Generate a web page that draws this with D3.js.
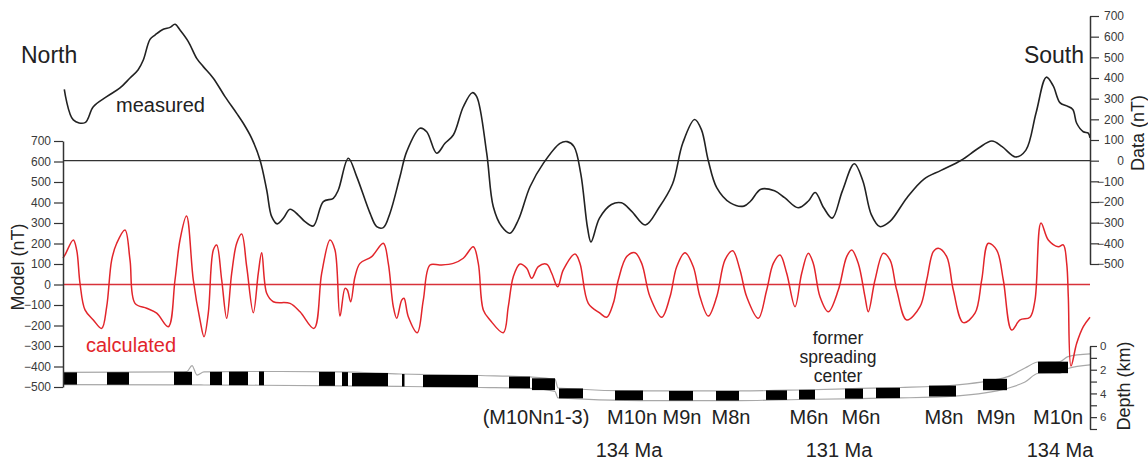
<!DOCTYPE html>
<html><head><meta charset="utf-8">
<script src="https://cdn.jsdelivr.net/npm/d3@7"></script>
<style>body{margin:0;background:#fff}svg{display:block;font-family:"Liberation Sans",Arial,sans-serif}</style>
</head><body><svg id="c" width="1148" height="461"></svg>
<script>
// distance along profile (arbitrary units, 0..1027)
const measuredDist = [1.3,10.3,22,30.3,43.7,57,67,75,80.3,87,
92,100.3,107,112,117,125.3,133.7,140.3,150.3,162,
173.7,180.3,188.7,197,203.7,208.7,214.3,220.3,227,235.3,
242,250.3,260.3,270.3,275.3,285.3,293.7,307,313.7,320.3,
327,337,343.7,357,363.7,373.7,382,390.3,400.3,409.3,
413.7,423.7,430.3,438.7,447,455.3,467,480.3,497,504.2,
511,517.8,524.6,528,536.5,548.4,558.5,568.7,582.3,595.9,
609.5,619.7,631.6,638.4,645.2,653.7,667.3,680.9,687.7,697.9,
711.5,721.6,735.2,745.4,752.2,760.7,769.2,779.4,791.3,799.8,
808.3,816.8,827,844,861,878,898.3,915.3,928.9,939.1,
952.7,962.9,973.1,983.3,990.1,996.9,1003.7,1009.8,1013.7,1020.3,
1025.3,1027];
const measuredNT = [345,197,184,261,310,352,400,439,487,587,
608,636,645,660,632,576,495,455,399,310,
229,181,108,3,-142,-271,-306,-279,-235,-263,
-295,-316,-198,-182,-142,12,-77,-254,-319,-324,
-254,-77,44,157,140,36,84,124,261,329,
310,36,-223,-319,-351,-287,-126,-13,84,92,
68,-64,-327,-393,-278,-212,-204,-245,-311,-228,
-113,84,199,150,2,-130,-204,-220,-195,-138,
-146,-179,-228,-195,-154,-228,-278,-146,-15,-97,
-261,-319,-294,-179,-89,-47,2,60,95,68,
18,51,232,404,363,281,265,248,181,140,
133,110];

const calcDist = [0,2,10.3,13.7,17,22,30.3,38.7,43.7,48.7,
53.7,62,67,72,83.7,93.7,105.3,112,117,123.5,
130.3,137,141,145.3,150.3,153.7,158.7,163.7,168.7,173.7,
178.7,183.7,190.3,195.3,198.7,203.7,210.3,227,237,251,
258.7,267,272,277,282,284.3,287.7,292,297,308.7,
320.3,325.3,330.3,333.7,338.7,341,345.3,354.3,360.3,367,
377,390.3,400.3,410.3,415.3,420.3,427,440.3,445.3,450.3,
457,463.7,468.7,475.3,483.7,488.7,494.7,500.3,512,517,
525.3,537,543.7,550.3,555.3,563.7,572,578.7,587,598.7,
607,613.7,622,630.3,637,645.3,653.7,662,669.7,677,
683.7,695.3,703.7,710.3,717,723.7,732,738.7,745.3,750.3,
757,765.3,775.3,783.7,788.7,795.3,802,805.3,812,820.3,
827,833.7,843.7,857,863.7,870.3,875.3,883.7,890.3,900.3,
912,918.7,925.3,933.7,940.3,948.7,957,967,972,978,
985.3,995.3,1000.3,1003.7,1005.3,1008,1013.7,1020.3,1027];
const calcNT = [129,144,217,168,6,-124,-173,-214,-108,120,
201,266,120,-92,-116,-140,-206,22,217,334,
22,-173,-255,-140,168,193,22,-165,55,201,
246,87,-138,55,155,-43,-84,-92,-133,-214,
55,217,168,-154,-19,-27,-84,38,103,136,
201,103,-108,-165,-76,-67,-157,-235,-76,95,
95,103,128,184,103,-124,-173,-235,-108,38,
100,79,30,87,99,55,-11,71,149,103,
-92,-140,-160,-92,22,136,155,103,-60,-160,
-60,87,155,87,-60,-154,-60,120,165,71,
-60,-165,-27,103,144,55,-108,55,152,103,
-60,-133,-27,136,168,103,-60,-133,22,152,
120,-27,-173,-108,22,160,177,136,-27,-186,
-140,22,201,168,22,-222,-173,-160,-76,300,
217,184,193,103,-60,-398,-287,-206,-160];

// bathymetry: top and bottom of magnetic layer (km)
const bathyDist = [0,117,124,129,134,141,197,277,337,417,467,492,495,577,677,737,797,837,892,944,962,975,997,1005,1027];
const layerTopKm = [2.23,2.19,2.15,1.65,2.45,2.19,2.15,2.19,2.36,2.49,2.61,2.82,3.54,3.79,3.79,3.71,3.58,3.50,3.29,2.61,1.85,1.35,1.31,0.89,0.67];
const layerBottomKm = [3.25,3.28,3.28,3.28,3.28,3.29,3.31,3.37,3.41,3.50,3.58,3.84,4.38,4.60,4.60,4.51,4.43,4.38,4.22,3.58,3.04,2.32,2.28,1.90,1.60];

// normally magnetized blocks
const blockStart = [1,44,111,147,166,196,256,279,289,339,360,446,469,496,552,606,653,703,736,782,813,866,920,975];
const blockEnd   = [14,66,129,159,185,201,272,285,325,341.5,415,467,492,520,580,630,676,724,752,800,837,893,944,1005];

// anomaly labels
const chronLabels = ["(M10Nn1-3)","M10n","M9n","M8n","M6n","M6n","M8n","M9n","M10n"];
const chronDist = [473,569,619,668,746,798,881,933,995];
const ageLabels = ["134 Ma","131 Ma","134 Ma"];
const ageDist = [566,776,997];

const modelTicks = [700,600,500,400,300,200,100,0,-100,-200,-300,-400,-500];
const dataTicks = [700,600,500,400,300,200,100,0,-100,-200,-300,-400,-500];
const depthTicks = [0,1,2,3,4,5,6,7];
const depthLabels = [0,2,4,6];

const svg = d3.select("#c");
const RED = "#e2252b", INK = "#222";

const x = d3.scaleLinear().domain([0,1027]).range([63,1090]);
const yModel = d3.scaleLinear().domain([-500,700]).range([387,141]);
const yData = d3.scaleLinear().domain([-500,700]).range([264,16]);
const yDepth = d3.scaleLinear().domain([0,7]).range([346,429]);
const topAt = d3.scaleLinear().domain(bathyDist).range(layerTopKm);
const botAt = d3.scaleLinear().domain(bathyDist).range(layerBottomKm);

// bathymetry lines
const bl = d3.line().x(d=>x(d[0])).y(d=>yDepth(d[1])).curve(d3.curveMonotoneX);
svg.append("path").attr("d", bl(bathyDist.map((d,i)=>[d,layerTopKm[i]])))
  .attr("fill","none").attr("stroke","#a8a8a8").attr("stroke-width",1.2);
svg.append("path").attr("d", bl(bathyDist.map((d,i)=>[d,layerBottomKm[i]])))
  .attr("fill","none").attr("stroke","#a8a8a8").attr("stroke-width",1.2);

// blocks
svg.append("g").selectAll("rect").data(blockStart.map((s,i)=>[s,blockEnd[i]])).join("rect")
  .attr("x", d=>x(d[0])).attr("width", d=>x(d[1])-x(d[0]))
  .attr("y", d=>yDepth(topAt((d[0]+d[1])/2)))
  .attr("height", d=>yDepth(botAt((d[0]+d[1])/2))-yDepth(topAt((d[0]+d[1])/2)))
  .attr("fill","#000");

// zero lines
svg.append("line").attr("x1",x(0)).attr("x2",x(1027)).attr("y1",yData(0)).attr("y2",yData(0))
  .attr("stroke","#333").attr("stroke-width",1.4);
svg.append("line").attr("x1",x(0)).attr("x2",x(1027)).attr("y1",yModel(0)).attr("y2",yModel(0))
  .attr("stroke","#d8323a").attr("stroke-width",1.6);

// curves
const lm = d3.line().x((d,i)=>x(measuredDist[i])).y(d=>yData(d)).curve(d3.curveCatmullRom.alpha(0.5));
svg.append("path").attr("d", lm(measuredNT)).attr("fill","none").attr("stroke",INK).attr("stroke-width",1.6);
const lc = d3.line().x((d,i)=>x(calcDist[i])).y(d=>yModel(d)).curve(d3.curveCatmullRom.alpha(0.5));
svg.append("path").attr("d", lc(calcNT)).attr("fill","none").attr("stroke",RED).attr("stroke-width",1.5);

// axes
function styleAxis(g){
  g.select(".domain").attr("stroke","#333").attr("stroke-width",1.5);
  g.selectAll(".tick line").attr("stroke","#333").attr("stroke-width",1.2);
  g.selectAll(".tick text").attr("fill","#3a3a3a").style("font-size","12px").style("font-family","'Liberation Sans',Arial,sans-serif");
}
const gl = svg.append("g").attr("transform","translate(63,0)")
  .call(d3.axisLeft(yModel).tickValues(modelTicks).tickSize(9).tickSizeOuter(0).tickPadding(3));
styleAxis(gl);
const gr = svg.append("g").attr("transform","translate(1090,0)")
  .call(d3.axisRight(yData).tickValues(dataTicks).tickSize(9).tickSizeOuter(0));
styleAxis(gr);
gr.selectAll(".tick text").attr("x",34).attr("text-anchor","end");
const gd = svg.append("g").attr("transform","translate(1090,0)")
  .call(d3.axisRight(yDepth).tickValues(depthTicks).tickSize(7).tickSizeOuter(0).tickPadding(3)
    .tickFormat(d=>depthLabels.includes(d)?d:""));
styleAxis(gd);
gd.selectAll(".tick text").style("font-size","11.5px");

// texts
function txt(t,xp,yp,size,opts={}){
  const e = svg.append("text").attr("x",xp).attr("y",yp).text(t)
    .style("font-size",size+"px").attr("fill",opts.fill||INK)
    .attr("text-anchor",opts.anchor||"start");
  if(opts.rot) e.attr("transform",`rotate(-90,${xp},${yp})`);
  return e;
}
txt("North",21,63,23);
txt("South",1084,63,23,{anchor:"end"});
txt("measured",116,111.5,20);
txt("calculated",86,352,20,{fill:RED});
txt("former",838,344,17.5,{anchor:"middle"});
txt("spreading",838,363,17.5,{anchor:"middle"});
txt("center",838,382,17.5,{anchor:"middle"});
txt("Model (nT)",24,267,18,{anchor:"middle",rot:true});
txt("Data (nT)",1144,133,18,{anchor:"middle",rot:true});
txt("Depth (km)",1130,386,18,{anchor:"middle",rot:true});
chronLabels.forEach((t,i)=>txt(t,x(chronDist[i]),424,20,{anchor:"middle"}));
ageLabels.forEach((t,i)=>txt(t,x(ageDist[i]),457,20,{anchor:"middle"}));
</script></body></html>
